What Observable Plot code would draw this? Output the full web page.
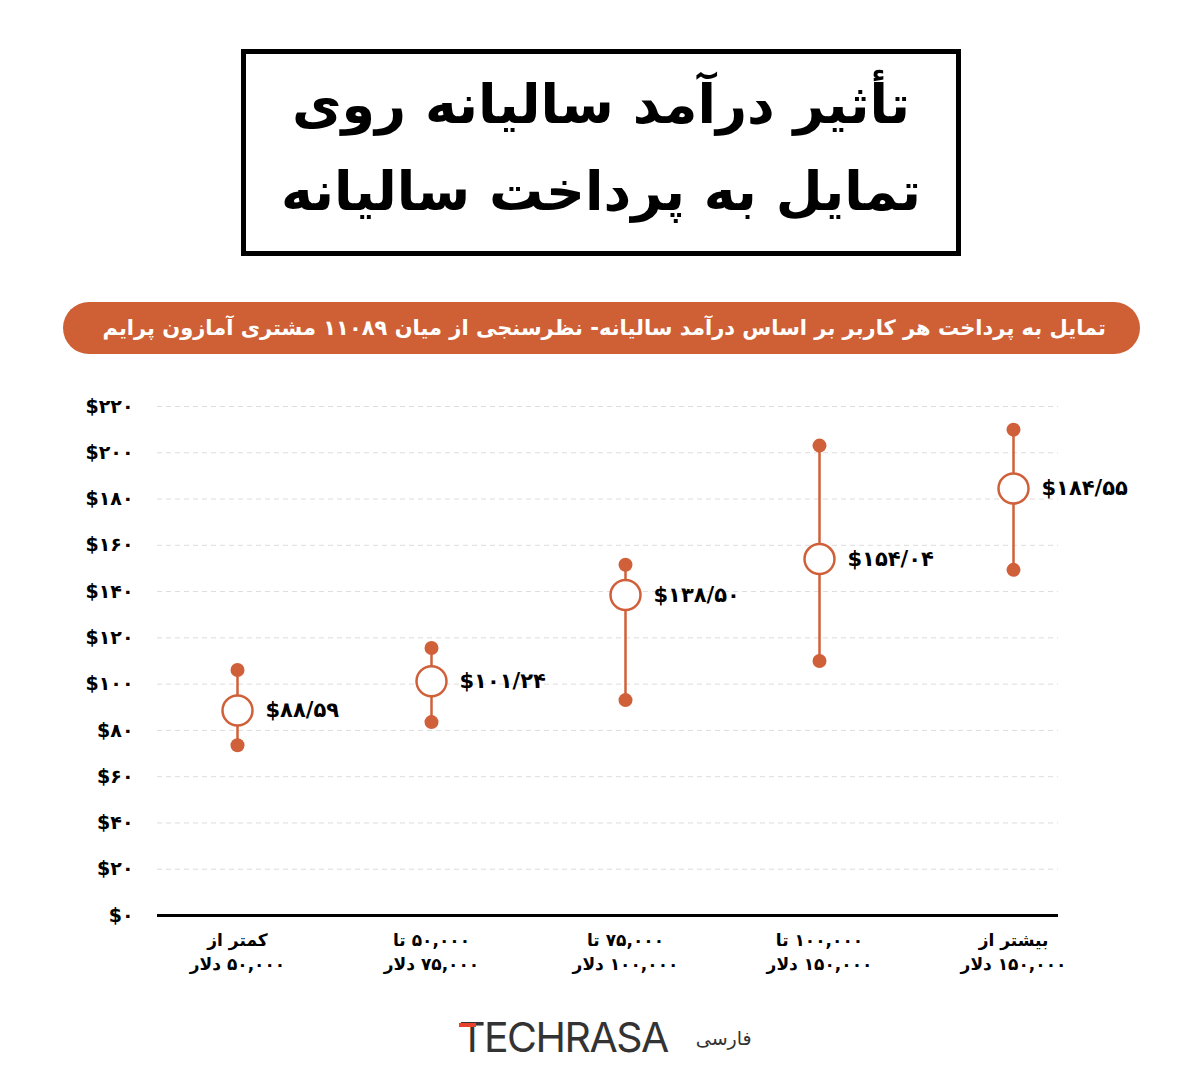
<!DOCTYPE html>
<html>
<head>
<meta charset="utf-8">
<script src="https://cdn.jsdelivr.net/npm/d3@7"></script>
<script src="https://cdn.jsdelivr.net/npm/@observablehq/plot@0.6"></script>
<style>
  html, body { margin: 0; padding: 0; background: #fff; }
  body { width: 1200px; height: 1084px; position: relative; overflow: hidden; font-family: "DejaVu Sans", sans-serif; }
  #title {
    position: absolute; left: 241px; top: 49px; width: 710px; height: 197px;
    border: 5px solid #000; box-sizing: content-box;
    display: flex; flex-direction: column; justify-content: center; align-items: center;
    direction: rtl; font-weight: bold; font-size: 54px; line-height: 87px; color: #000;
  }
  #title .inner { margin-top: -10px; text-align: center; }
  #pill {
    position: absolute; left: 63px; top: 302px; width: 1077px; height: 52px;
    background: #cf6035; border-radius: 26px; color: #fff; direction: rtl;
    font-weight: bold; font-size: 21px; line-height: 52px; text-align: right;
    box-sizing: border-box; padding-right: 34px; white-space: nowrap;
  }
  #chart { position: absolute; left: 0; top: 380px; }
  #logo { position: absolute; left: 459px; top: 1017px; height: 41px; display: flex; align-items: center; }
  #logo .brand { font-family: "Inter", sans-serif; font-weight: 400; font-size: 41px; line-height: 41px; color: #333; letter-spacing: -1.5px; position: relative; display: inline-block; }
  #logo .brand .bar { position: absolute; left: 0px; top: 6px; width: 17px; height: 4px; background: #e8412c; }
  #logo .fa { font-family: "DejaVu Sans", sans-serif; font-size: 19px; color: #333; margin-left: 28px; direction: rtl; }
</style>
</head>
<body>
<div id="title"><div class="inner"><div>تأثیر درآمد سالیانه روی</div><div>تمایل به پرداخت سالیانه</div></div></div>
<div id="pill">تمایل به پرداخت هر کاربر بر اساس درآمد سالیانه- نظرسنجی از میان ۱۱۰۸۹ مشتری آمازون پرایم</div>
<div id="chart"></div>
<div id="logo"><span class="brand"><span class="bar"></span>TECHRASA</span><span class="fa">فارسی</span></div>
<script>
const categories = [
  "کمتر از\n۵۰,۰۰۰ دلار",
  "۵۰,۰۰۰ تا\n۷۵,۰۰۰ دلار",
  "۷۵,۰۰۰ تا\n۱۰۰,۰۰۰ دلار",
  "۱۰۰,۰۰۰ تا\n۱۵۰,۰۰۰ دلار",
  "بیشتر از\n۱۵۰,۰۰۰ دلار"
];
const averages = [88.59, 101.24, 138.50, 154.04, 184.55];
const lows = [73.6, 83.6, 93.1, 110.0, 149.4];
const highs = [106.1, 115.6, 151.6, 203.1, 210.0];
const yTicks = [0, 20, 40, 60, 80, 100, 120, 140, 160, 180, 200, 220];

const faDigits = "۰۱۲۳۴۵۶۷۸۹";
const toFa = s => String(s).replace(/\d/g, d => faDigits[d]);
const orange = "#d0603a";
// lines that contain numbers are shown right-to-left, as in the original
const rtlLines = s => s.split("\n").map(l => /[۰-۹]/.test(l) ? "\u202B" + l + "\u202C" : l).join("\n");

const data = categories.map((c, i) => ({
  cat: c, avg: averages[i], low: lows[i], high: highs[i],
  label: "$" + toFa(averages[i].toFixed(2)).replace(".", "/")
}));

const chart = Plot.plot({
  width: 1200,
  height: 610,
  marginTop: 26,
  marginBottom: 75,
  marginLeft: 157,
  marginRight: 142,
  style: { fontFamily: "DejaVu Sans, sans-serif", color: "#000", background: "transparent" },
  x: { type: "point", domain: categories, range: [236, 1013], padding: 0 },
  y: { domain: [0, 220] },
  marks: [
    Plot.gridY(yTicks, { stroke: "#dcdcdc", strokeOpacity: 1, strokeDasharray: "5,4" }),
    Plot.ruleY([0], { stroke: "#000", strokeWidth: 3 }),
    Plot.axisY({ ticks: yTicks, tickFormat: d => "$" + toFa(d), tickSize: 0, tickPadding: 24, fontSize: 19, fontWeight: "bold", label: null }),
    Plot.axisX({ tickSize: 0, tickPadding: 14, fontSize: 17, fontWeight: "bold", lineHeight: 1.4, label: null, tickFormat: rtlLines }),
    Plot.ruleX(data, { x: "cat", y1: "low", y2: "high", stroke: orange, strokeWidth: 2.5 }),
    Plot.dot(data, { x: "cat", y: "low", r: 7, fill: orange }),
    Plot.dot(data, { x: "cat", y: "high", r: 7, fill: orange }),
    Plot.dot(data, { x: "cat", y: "avg", r: 15, fill: "#fff", stroke: orange, strokeWidth: 2.5 }),
    Plot.text(data, { x: "cat", y: "avg", text: "label", dx: 28, textAnchor: "start", fontSize: 21, fontWeight: "bold", fill: "#000" })
  ]
});
document.getElementById("chart").appendChild(chart);
</script>
</body>
</html>
